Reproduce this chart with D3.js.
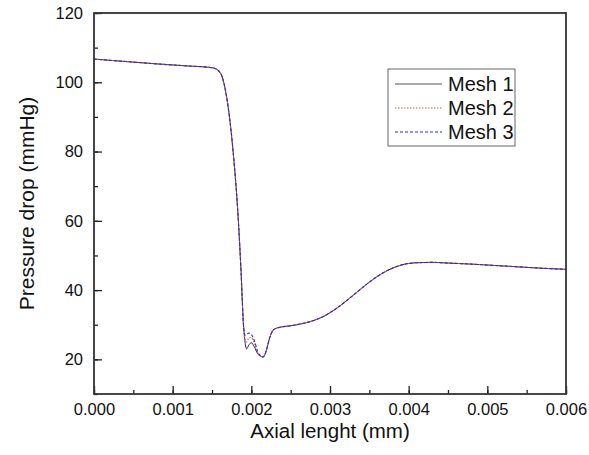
<!DOCTYPE html>
<html>
<head>
<meta charset="utf-8">
<script src="https://cdn.jsdelivr.net/npm/d3@7"></script>
<style>
  body { margin: 0; background: #fff; }
  text { font-family: "Liberation Sans", Arial, sans-serif; fill: #111; }
</style>
</head>
<body>
<script>
// Data
let axialX = [0, 0.0004, 0.0008, 0.0012, 0.0015, 0.00158, 0.00163, 0.00168, 0.00173, 0.00178,
              0.00183, 0.00187, 0.00190, 0.00192, 0.00194, 0.00197, 0.00200, 0.00204, 0.00208, 0.00212,
              0.00215, 0.00219, 0.00223, 0.00228, 0.00235, 0.0025, 0.0027, 0.0029, 0.0031, 0.0033,
              0.0035, 0.0037, 0.0039, 0.0041, 0.0043, 0.0045, 0.0048, 0.0051, 0.0054, 0.0057, 0.006];

let mesh1 = [106.7, 106.0, 105.3, 104.7, 104.2, 103.4, 101.5, 96.5, 88.5, 77,
             62, 45, 30, 25, 23.0, 24.2, 24.8, 23.5, 21.6, 20.9,
             20.7, 22.5, 26, 28.5, 29.2, 29.7, 30.6, 32.2, 35.0, 38.6,
             42.3, 45.3, 47.2, 47.9, 48.0, 47.8, 47.5, 47.1, 46.7, 46.3, 46.0];

let mesh2 = [106.7, 106.0, 105.3, 104.7, 104.2, 103.4, 101.5, 96.5, 88.5, 77,
             62, 45, 30, 26, 25.0, 26.2, 26.3, 24.6, 22.0, 20.9,
             20.7, 22.5, 26, 28.5, 29.2, 29.7, 30.6, 32.2, 35.0, 38.6,
             42.3, 45.3, 47.2, 47.9, 48.0, 47.8, 47.5, 47.1, 46.7, 46.3, 46.0];

let mesh3 = [106.7, 106.0, 105.3, 104.7, 104.2, 103.4, 101.5, 96.5, 88.5, 77,
             62, 45, 30, 27, 27.2, 27.6, 27.2, 25.3, 22.3, 21.0,
             20.7, 22.5, 26, 28.5, 29.2, 29.7, 30.6, 32.2, 35.0, 38.6,
             42.3, 45.3, 47.2, 47.9, 48.0, 47.8, 47.5, 47.1, 46.7, 46.3, 46.0];

let seriesNames = ["Mesh 1", "Mesh 2", "Mesh 3"];
let xTicks = [0, 0.001, 0.002, 0.003, 0.004, 0.005, 0.006];
let yTicks = [20, 40, 60, 80, 100, 120];

// Layout
let W = 589, H = 455;
let mLeft = 94, mRight = 566, mTop = 13, mBottom = 394;

let svg = d3.select("body").append("svg")
            .attr("width", W)
            .attr("height", H);

let x = d3.scaleLinear().domain([0, 0.006]).range([mLeft, mRight]);
let y = d3.scaleLinear().domain([10, 120]).range([mBottom, mTop]);

// Lines
let styles = [
    { color: "#2a2a2a", dash: null, width: 1 },
    { color: "#e0574f", dash: "1.5,1.5", width: 1.1 },
    { color: "#2b2bd0", dash: "3,2", width: 1.1 }
];
let allSeries = [mesh1, mesh2, mesh3];

let line = d3.line()
             .x((d, i) => x(axialX[i]))
             .y(d => y(d))
             .curve(d3.curveMonotoneX);

svg.append("g")
   .selectAll("path")
   .data(allSeries)
   .enter()
     .append("path")
     .attr("d", d => line(d))
     .attr("fill", "none")
     .attr("stroke", (d, i) => styles[i].color)
     .attr("stroke-width", (d, i) => styles[i].width)
     .attr("stroke-dasharray", (d, i) => styles[i].dash);

// Axes (ticks pointing inward)
let xAxis = d3.axisBottom(x)
              .tickValues(d3.range(0, 0.00601, 0.0005))
              .tickSize(-4)
              .tickFormat("");
let xMajor = d3.axisBottom(x)
              .tickValues(xTicks)
              .tickSize(-8)
              .tickPadding(9)
              .tickFormat(d3.format(".3f"));
let yAxis = d3.axisLeft(y)
              .tickValues(d3.range(10, 121, 10))
              .tickSize(-4)
              .tickFormat("");
let yMajor = d3.axisLeft(y)
              .tickValues(yTicks)
              .tickSize(-8)
              .tickPadding(11)
              .tickFormat(d3.format("d"));

[xAxis, xMajor].forEach(a => {
    svg.append("g").attr("transform", `translate(0,${mBottom})`).call(a);
});
[yAxis, yMajor].forEach(a => {
    svg.append("g").attr("transform", `translate(${mLeft},0)`).call(a);
});

svg.selectAll(".domain").remove();
svg.selectAll(".tick line").attr("stroke", "#222").attr("stroke-width", 1.3);
svg.selectAll(".tick text")
   .style("font-size", "16.5px")
   .style("font-family", "'Liberation Sans', Arial, sans-serif")
   .attr("fill", "#111");

// Frame
svg.append("rect")
   .attr("x", mLeft)
   .attr("y", mTop)
   .attr("width", mRight - mLeft)
   .attr("height", mBottom - mTop)
   .attr("fill", "none")
   .attr("stroke", "#333")
   .attr("stroke-width", 1.8);

// Axis titles
svg.append("text")
   .attr("x", (mLeft + mRight) / 2)
   .attr("y", 438)
   .attr("text-anchor", "middle")
   .style("font-size", "20.5px")
   .text("Axial lenght (mm)");

svg.append("text")
   .attr("transform", `translate(34,${(mTop + mBottom) / 2}) rotate(-90)`)
   .attr("text-anchor", "middle")
   .style("font-size", "21px")
   .text("Pressure drop (mmHg)");

// Legend
let legend = svg.append("g");
legend.append("rect")
      .attr("x", 388)
      .attr("y", 69)
      .attr("width", 127)
      .attr("height", 77)
      .attr("fill", "#fff")
      .attr("stroke", "#666")
      .attr("stroke-width", 1);

let rows = legend.selectAll(".row")
                 .data(seriesNames)
                 .enter()
                 .append("g")
                 .attr("transform", (d, i) => `translate(0,${84 + i * 24})`);

rows.append("line")
    .attr("x1", 395)
    .attr("x2", 442)
    .attr("y1", 0)
    .attr("y2", 0)
    .attr("stroke", (d, i) => i === 0 ? "#555" : styles[i].color)
    .attr("stroke-width", 1)
    .attr("stroke-dasharray", (d, i) => styles[i].dash);

rows.append("text")
    .attr("x", 448)
    .attr("y", 7)
    .style("font-size", "20px")
    .text(d => d);
</script>
</body>
</html>
